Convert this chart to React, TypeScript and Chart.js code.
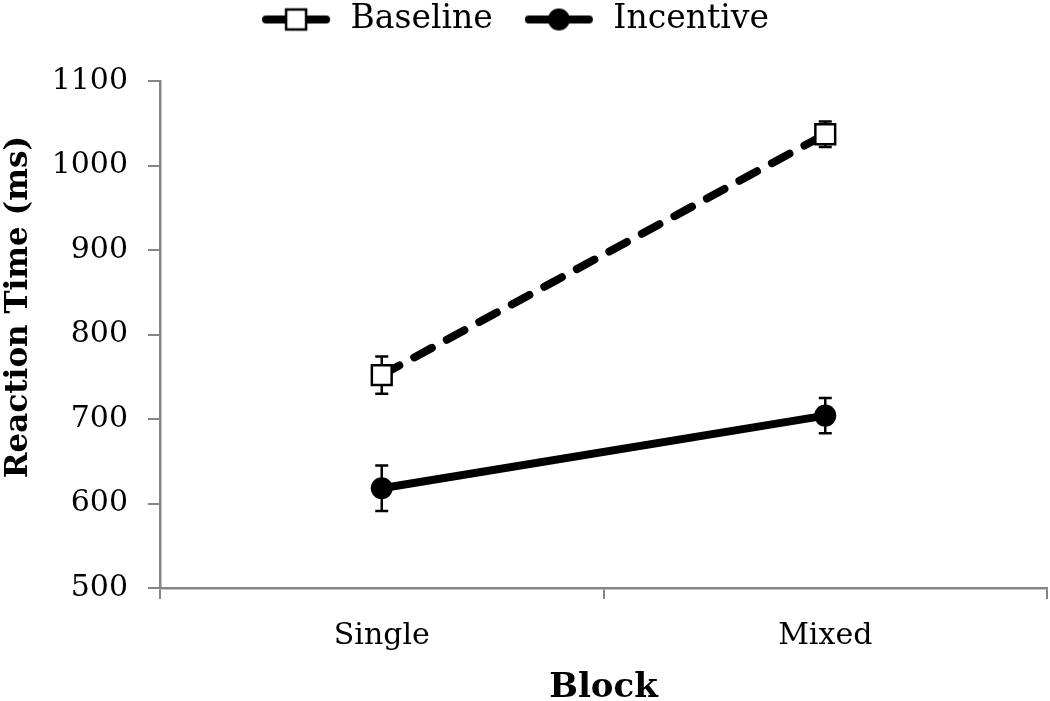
import React, { useEffect, useRef } from "react";
import { Chart, registerables } from "chart.js";

Chart.register(...registerables);

const categories = ["Single", "Mixed"];
const baselineValues = [752, 1037];
const baselineErrors = [22, 15];
const incentiveValues = [618, 704];
const incentiveErrors = [27, 21];
const yMin = 500;
const yMax = 1100;
const yStep = 100;
const yTitle = "Reaction Time (ms)";
const xTitle = "Block";
const seriesNames = ["Baseline", "Incentive"];

const FONT = "'DejaVu Serif', serif";
const AXIS_GRAY = "#858585";
const LEGEND_PAD = 32;
const LEGEND_TOP = -29;
const LEGEND_HEIGHT = 110;
const LEGEND_SHIFT_X = -8;

function makeLegendIcon(kind: "square" | "circle"): HTMLCanvasElement {
  const c = document.createElement("canvas");
  c.width = 72;
  c.height = 26;
  const ctx = c.getContext("2d")!;
  ctx.strokeStyle = "#000";
  ctx.lineWidth = 8;
  ctx.lineCap = "round";
  ctx.beginPath();
  ctx.moveTo(4, 13);
  ctx.lineTo(64, 13);
  ctx.stroke();
  if (kind === "square") {
    ctx.fillStyle = "#fff";
    ctx.fillRect(24, 3, 20, 20);
    ctx.lineWidth = 2.5;
    ctx.strokeRect(24, 3, 20, 20);
  } else {
    ctx.fillStyle = "#000";
    ctx.beginPath();
    ctx.arc(34, 13, 11, 0, Math.PI * 2);
    ctx.fill();
  }
  return c;
}

const legendSizePlugin = {
  id: "legendSize",
  beforeLayout(chart: any) {
    const lg = chart.legend;
    if (lg && !lg.__wrapped) {
      const origFit = lg.fit.bind(lg);
      lg.fit = function () {
        origFit();
        this.height = LEGEND_HEIGHT;
      };
      const origDraw = lg.draw.bind(lg);
      lg.draw = function () {
        const ctx = this.ctx;
        ctx.save();
        ctx.translate(LEGEND_SHIFT_X, 0);
        origDraw();
        ctx.restore();
      };
      lg.__wrapped = true;
    }
  },
};

const errorBarPlugin = {
  id: "errorBars",
  beforeDatasetsDraw(chart: any) {
    const ctx = chart.ctx;
    const yScale = chart.scales.y;
    ctx.save();
    ctx.strokeStyle = "#000";
    ctx.lineWidth = 2.5;
    chart.data.datasets.forEach((ds: any, i: number) => {
      const meta = chart.getDatasetMeta(i);
      meta.data.forEach((pt: any, j: number) => {
        const v = ds.data[j];
        const e = ds.errors[j];
        const top = yScale.getPixelForValue(v + e);
        const bot = yScale.getPixelForValue(v - e);
        const x = pt.x;
        ctx.beginPath();
        ctx.moveTo(x, top);
        ctx.lineTo(x, bot);
        ctx.moveTo(x - 6.5, top);
        ctx.lineTo(x + 6.5, top);
        ctx.moveTo(x - 6.5, bot);
        ctx.lineTo(x + 6.5, bot);
        ctx.stroke();
      });
    });
    ctx.restore();
  },
};

const yTitlePlugin = {
  id: "yTitle",
  afterDraw(chart: any) {
    const ctx = chart.ctx;
    ctx.save();
    ctx.translate(19, 307);
    ctx.rotate(-Math.PI / 2);
    ctx.font = `bold 31px ${FONT}`;
    ctx.fillStyle = "#000";
    ctx.textAlign = "center";
    ctx.textBaseline = "middle";
    ctx.fillText(yTitle, 0, 0);
    ctx.restore();
  },
};

export default function App() {
  const ref = useRef<HTMLCanvasElement | null>(null);

  useEffect(() => {
    if (!ref.current) return;
    const icons = [makeLegendIcon("square"), makeLegendIcon("circle")];
    const chart = new Chart(ref.current, {
      type: "line",
      data: {
        labels: categories,
        datasets: [
          {
            label: seriesNames[0],
            data: baselineValues,
            errors: baselineErrors,
            borderColor: "#000",
            borderWidth: 8,
            borderDash: [20, 17],
            borderCapStyle: "round",
            pointStyle: "rect",
            pointRadius: 14,
            pointBackgroundColor: "#fff",
            pointBorderColor: "#000",
            pointBorderWidth: 2.5,
            tension: 0,
          } as any,
          {
            label: seriesNames[1],
            data: incentiveValues,
            errors: incentiveErrors,
            borderColor: "#000",
            borderWidth: 8,
            borderCapStyle: "round",
            pointStyle: "circle",
            pointRadius: 11,
            pointBackgroundColor: "#000",
            pointBorderColor: "#000",
            pointBorderWidth: 0,
            tension: 0,
          } as any,
        ],
      },
      options: {
        animation: false,
        responsive: true,
        maintainAspectRatio: false,
        layout: { autoPadding: false, padding: { top: LEGEND_TOP, right: 3, left: 0, bottom: 0 } },
        plugins: {
          tooltip: { enabled: false },
          legend: {
            display: true,
            position: "top",
            labels: {
              font: { family: FONT, size: 33 },
              color: "#000",
              usePointStyle: true,
              pointStyleWidth: 72,
              boxHeight: 26,
              padding: LEGEND_PAD,
              generateLabels: (c: any) => {
                const items = Chart.defaults.plugins.legend.labels.generateLabels(c);
                items.forEach((it: any, i: number) => {
                  it.pointStyle = icons[i];
                });
                return items;
              },
            },
          },
        },
        scales: {
          x: {
            type: "category",
            offset: true,
            grid: {
              offset: true,
              drawOnChartArea: false,
              drawTicks: true,
              tickLength: 11,
              color: AXIS_GRAY,
              lineWidth: 2,
            },
            border: { display: true, color: AXIS_GRAY, width: 2.5 },
            ticks: {
              font: { family: FONT, size: 30 },
              color: "#000",
              padding: 19,
              maxRotation: 0,
              autoSkip: false,
            },
            title: {
              display: true,
              text: xTitle,
              font: { family: FONT, size: 34, weight: "bold" },
              color: "#000",
              padding: { top: 0, bottom: -8 },
            },
            afterFit: (s: any) => {
              s.height = 113;
              s.paddingLeft = 0;
              s.paddingRight = 0;
            },
          },
          y: {
            type: "linear",
            min: yMin,
            max: yMax,
            ticks: {
              stepSize: yStep,
              font: { family: FONT, size: 30 },
              color: "#000",
              padding: 20,
              callback: (v: any) => String(v),
            },
            grid: {
              drawOnChartArea: false,
              drawTicks: true,
              tickLength: 12,
              color: AXIS_GRAY,
              lineWidth: 2,
            },
            border: { display: true, color: AXIS_GRAY, width: 2.5 },
            title: { display: false },
            afterFit: (s: any) => {
              s.width = 160;
            },
          },
        },
      },
      plugins: [legendSizePlugin, errorBarPlugin, yTitlePlugin],
    } as any);
    return () => chart.destroy();
  }, []);

  return (
    <div style={{ position: "absolute", left: 0, top: 0, width: 1050, height: 701, background: "#fff" }}>
      <canvas ref={ref} />
    </div>
  );
}
